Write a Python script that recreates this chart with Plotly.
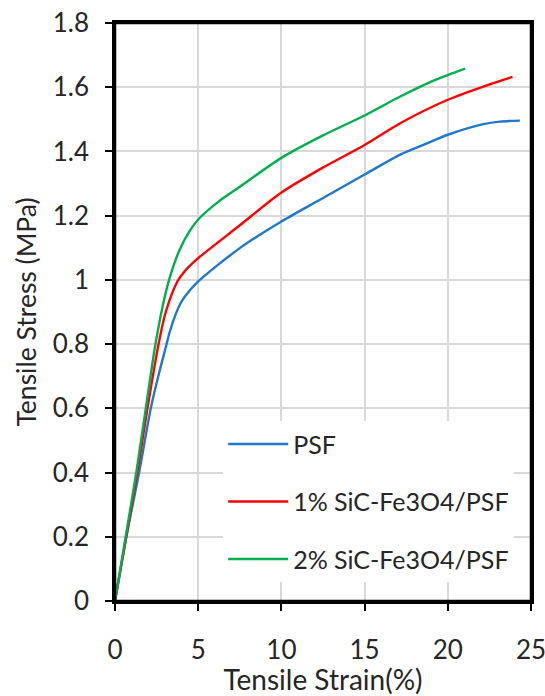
import plotly.graph_objects as go

# PSF
psf_x = [0, 0.68, 1.45, 2.15, 2.6, 3.05, 3.3, 3.66, 3.95, 4.26, 5.0, 7.5, 10.0, 12.5, 15.0, 17.14, 18.6, 20.0, 22.13, 23.13, 24.33]
psf_y = [0, 0.2, 0.4, 0.6, 0.7, 0.79, 0.84, 0.895, 0.928, 0.952, 0.995, 1.099, 1.182, 1.255, 1.328, 1.39, 1.422, 1.452, 1.485, 1.493, 1.496]
# 1% SiC-Fe3O4/PSF
one_x = [0, 0.68, 1.34, 1.95, 2.6, 3.05, 3.75, 4.2, 4.66, 5.0, 7.5, 10.0, 12.5, 15.0, 17.14, 20.0, 22.13, 23.89]
one_y = [0, 0.2, 0.4, 0.6, 0.795, 0.9, 0.995, 1.028, 1.052, 1.068, 1.17, 1.272, 1.35, 1.42, 1.488, 1.561, 1.602, 1.632]
# 2% SiC-Fe3O4/PSF
two_x = [0, 0.64, 1.28, 1.85, 2.4, 2.81, 3.25, 3.86, 4.46, 5.0, 6.2, 7.5, 10.0, 12.5, 15.0, 17.14, 18.94, 20.0, 21.04]
two_y = [0, 0.2, 0.4, 0.6, 0.79, 0.905, 1.0, 1.091, 1.15, 1.188, 1.243, 1.29, 1.38, 1.45, 1.512, 1.571, 1.616, 1.638, 1.658]

names = ["PSF", "1% SiC-Fe3O4/PSF", "2% SiC-Fe3O4/PSF"]
colors = ["#1F78C8", "#FF0000", "#00B050"]
x_ticks = [0, 5, 10, 15, 20, 25]
y_ticks = [0, 0.2, 0.4, 0.6, 0.8, 1.0, 1.2, 1.4, 1.6, 1.8]
y_tick_text = ["0", "0.2", "0.4", "0.6", "0.8", "1", "1.2", "1.4", "1.6", "1.8"]

FONT = "Lato"
TXT = "#262626"

fig = go.Figure()
for i, (xs, ys) in enumerate([(psf_x, psf_y), (one_x, one_y), (two_x, two_y)]):
    fig.add_trace(go.Scatter(
        x=xs, y=ys, mode="lines", name=names[i], legendgroup=f"g{i}",
        line=dict(color=colors[i], width=2.4, shape="spline", smoothing=0.8),
    ))

axis_common = dict(
    showline=True, linecolor="black", linewidth=2.5, mirror=True,
    ticks="outside", ticklen=7, tickwidth=2, tickcolor="black",
    showgrid=True, gridcolor="#D9D9D9", gridwidth=1.5,
    zeroline=False, automargin=False, ticklabeloverflow="allow",
    tickfont=dict(family=FONT, size=26, color=TXT),
)

fig.update_layout(
    width=545, height=696,
    margin=dict(l=115, r=14, t=23, b=95),
    paper_bgcolor="white", plot_bgcolor="white",
    showlegend=True,
    legend=dict(
        x=0.26, y=0.311, xanchor="left", yanchor="top",
        bgcolor="white", font=dict(family=FONT, size=25, color=TXT),
        traceorder="grouped", tracegroupgap=22,
        itemwidth=60,
    ),
    xaxis=dict(range=[0, 25], tickvals=x_ticks, ticklabelstandoff=17,
               title=dict(text="Tensile Strain(%)", font=dict(family=FONT, size=28, color=TXT), standoff=15),
               **axis_common),
    yaxis=dict(range=[0, 1.8], tickvals=y_ticks, ticktext=y_tick_text, ticklabelstandoff=11,
               title=dict(text="Tensile Stress (MPa)", font=dict(family=FONT, size=26.5, color=TXT), standoff=9),
               **axis_common),
)

# plot frame (all four sides)
fig.add_shape(type="rect", xref="paper", yref="paper", x0=0, x1=1, y0=0, y1=1,
              line=dict(color="black", width=2.5), layer="above")

fig.write_html("out.html", config={"displayModeBar": False},
               post_script="document.body.style.margin='0';")
